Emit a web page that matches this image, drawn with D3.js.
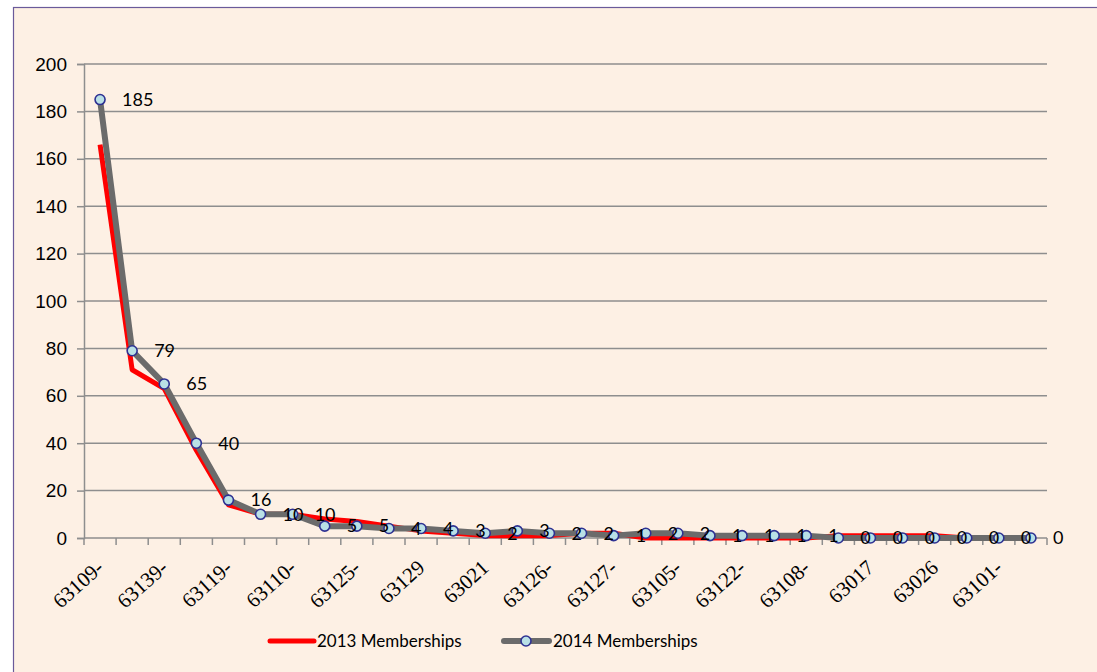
<!DOCTYPE html>
<html>
<head>
<meta charset="utf-8">
<script src="https://cdn.jsdelivr.net/npm/d3@7"></script>
<style>
  html, body { margin: 0; padding: 0; background: #fff; }
  svg { display: block; }
</style>
</head>
<body>
<svg id="chart" width="1097" height="672"></svg>
<script>
// zip codes, one per point; only every other one gets a label on the axis
const categories = [
  "63109-", "c1", "63139-", "c3", "63119-", "c5", "63110-", "c7", "63125-", "c9",
  "63129", "c11", "63021", "c13", "63126-", "c15", "63127-", "c17", "63105-", "c19",
  "63122-", "c21", "63108-", "c23", "63017", "c25", "63026", "c27", "63101-", "c29"
];
const members2013 = [166, 71, 63, 37, 14, 10, 10, 8, 7, 5, 3, 2, 1, 1, 1, 2, 2, 0, 0, 0, 0, 0, 0, 1, 1, 1, 1, 0, 0, 0];
const members2014 = [185, 79, 65, 40, 16, 10, 10, 5, 5, 4, 4, 3, 2, 3, 2, 2, 1, 2, 2, 1, 1, 1, 1, 0, 0, 0, 0, 0, 0, 0];
const yTicks = [0, 20, 40, 60, 80, 100, 120, 140, 160, 180, 200];
const seriesNames = ["2013 Memberships", "2014 Memberships"];

const svg = d3.select("#chart");
const W = 1097, H = 672;
const m = { left: 84, right: 50, top: 64, bottom: 134 };
const labelFont = "18px Lato, 'Open Sans', sans-serif";

// chart area background + border
svg.append("rect")
  .attr("x", 13.5).attr("y", 7.5)
  .attr("width", W).attr("height", H)
  .attr("fill", "#fdf0e4")
  .attr("stroke", "#6a5a9a").attr("stroke-width", 1.2);

const x = d3.scaleBand()
  .domain(d3.range(categories.length))
  .range([m.left, W - m.right]);

const y = d3.scaleLinear()
  .domain([0, 200])
  .range([H - m.bottom, m.top]);

const cx = i => x(i) + x.bandwidth() / 2;

// gridlines
svg.append("g")
  .selectAll("line")
  .data(yTicks.filter(t => t > 0))
  .join("line")
  .attr("x1", m.left).attr("x2", W - m.right)
  .attr("y1", d => y(d)).attr("y2", d => y(d))
  .attr("stroke", "#8e8e8e").attr("stroke-width", 1.5);

// y axis
const yAxis = svg.append("g")
  .attr("transform", `translate(${m.left},0)`)
  .call(d3.axisLeft(y).tickValues(yTicks).tickSize(7).tickPadding(10));
yAxis.select(".domain").attr("stroke", "#8e8e8e").attr("stroke-width", 1.5);
yAxis.selectAll(".tick line").attr("stroke", "#8e8e8e").attr("stroke-width", 1.5);
yAxis.selectAll(".tick text")
  .attr("fill", "#000")
  .style("font", "19px Arial, 'Liberation Sans', sans-serif");

// x axis: ticks on category boundaries
const xAxisG = svg.append("g").attr("transform", `translate(0,${y(0)})`);
xAxisG.append("line")
  .attr("x1", m.left).attr("x2", W - m.right)
  .attr("stroke", "#8e8e8e").attr("stroke-width", 1.5);
xAxisG.selectAll("line.tk")
  .data(d3.range(categories.length + 1))
  .join("line")
  .attr("class", "tk")
  .attr("x1", i => m.left + i * x.step()).attr("x2", i => m.left + i * x.step())
  .attr("y1", 0).attr("y2", 7)
  .attr("stroke", "#8e8e8e").attr("stroke-width", 1.5);

xAxisG.selectAll("text")
  .data(d3.range(0, categories.length, 2))
  .join("text")
  .attr("transform", i => `translate(${cx(i)},${26}) rotate(-42)`)
  .attr("text-anchor", "end")
  .attr("dy", "0.35em")
  .style("font", "21px 'Liberation Serif', 'DejaVu Serif', serif")
  .text(i => categories[i]);

// lines
const line = d3.line()
  .x((d, i) => cx(i))
  .y(d => y(d));

svg.append("path")
  .datum(members2013)
  .attr("d", line)
  .attr("fill", "none")
  .attr("stroke", "#ff0000").attr("stroke-width", 5)
  .attr("stroke-linejoin", "round");

svg.append("path")
  .datum(members2014)
  .attr("d", line)
  .attr("fill", "none")
  .attr("stroke", "#6b6b6b").attr("stroke-width", 6)
  .attr("stroke-linejoin", "round");

svg.append("g")
  .selectAll("circle")
  .data(members2014)
  .join("circle")
  .attr("cx", (d, i) => cx(i))
  .attr("cy", d => y(d))
  .attr("r", 5)
  .attr("fill", "#b9e0e6")
  .attr("stroke", "#2e3192").attr("stroke-width", 1.6);

// data labels to the right of each marker
svg.append("g")
  .selectAll("text")
  .data(members2014)
  .join("text")
  .attr("x", (d, i) => cx(i) + 22)
  .attr("y", d => y(d))
  .attr("dy", "0.35em")
  .style("font", labelFont)
  .text(d => d);

// legend
const lg = svg.append("g").attr("transform", "translate(0,641)");
lg.append("line")
  .attr("x1", 270).attr("x2", 314)
  .attr("stroke", "#ff0000").attr("stroke-width", 5).attr("stroke-linecap", "round");
lg.append("text")
  .attr("x", 317).attr("dy", "0.35em")
  .style("font", "17px Lato, 'Open Sans', sans-serif")
  .text(seriesNames[0]);
lg.append("line")
  .attr("x1", 504).attr("x2", 549)
  .attr("stroke", "#6b6b6b").attr("stroke-width", 6).attr("stroke-linecap", "round");
lg.append("circle")
  .attr("cx", 526).attr("r", 5)
  .attr("fill", "#b9e0e6").attr("stroke", "#2e3192").attr("stroke-width", 1.6);
lg.append("text")
  .attr("x", 553).attr("dy", "0.35em")
  .style("font", "17px Lato, 'Open Sans', sans-serif")
  .text(seriesNames[1]);
</script>
</body>
</html>
